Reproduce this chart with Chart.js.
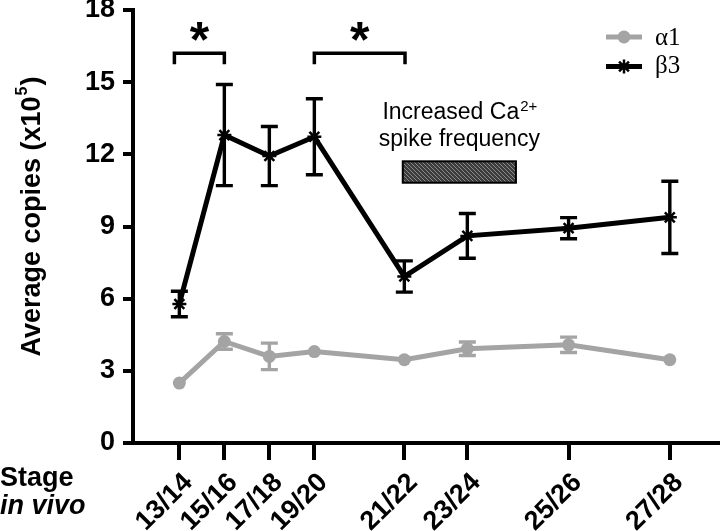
<!DOCTYPE html>
<html><head><meta charset="utf-8">
<script src="https://cdn.jsdelivr.net/npm/chart.js@4/dist/chart.umd.min.js"></script>
<style>html,body{margin:0;padding:0;background:#fff}#wrap{width:720px;height:531px;position:relative}</style>
</head><body><div id="wrap"><canvas id="c" width="720" height="531"></canvas></div>
<script>
// ---- data ----
const stageLabels = ['13/14','15/16','17/18','19/20','21/22','23/24','25/26','27/28'];
const stagePos    = [0, 2, 4, 6, 10, 12.8, 17.3, 21.8];
const alpha1      = [2.49, 4.22, 3.60, 3.80, 3.46, 3.92, 4.08, 3.46];
const alpha1Err   = [0, 0.32, 0.55, 0, 0, 0.28, 0.32, 0];
const beta3       = [5.78, 12.80, 11.93, 12.73, 6.92, 8.61, 8.93, 9.38];
const beta3Err    = [0.53, 2.10, 1.23, 1.58, 0.65, 0.93, 0.44, 1.50];
const yTicks      = [0, 3, 6, 9, 12, 15, 18];
const sigBrackets = [[-0.22, 2.0], [6.0, 10.03]];
const spikeRange  = [9.93, 14.96];
const spikeBand   = [10.82, 11.71];

const GRAY = '#a4a4a4';
const SANS = '"Liberation Sans", Arial, sans-serif';
const SERIF = '"Liberation Serif", "Times New Roman", serif';

function hatch(ctx){
  const p = document.createElement('canvas'); p.width = 4; p.height = 4;
  const c = p.getContext('2d');
  c.fillStyle = '#3c3c3c'; c.fillRect(0,0,4,4);
  c.strokeStyle = '#8a8a8a'; c.lineWidth = 1;
  c.beginPath(); c.moveTo(0,0); c.lineTo(4,4); c.moveTo(-1,3); c.lineTo(1,5); c.moveTo(3,-1); c.lineTo(5,1); c.stroke();
  return ctx.createPattern(p, 'repeat');
}

const overlay = {
  id: 'overlay',
  afterDatasetsDraw(chart){
    const ctx = chart.ctx, xs = chart.scales.x, ys = chart.scales.y;
    function bars(vals, errs, color){
      ctx.save(); ctx.strokeStyle = color; ctx.lineWidth = 3.4; ctx.lineCap = 'butt';
      vals.forEach((v,i)=>{
        const e = errs[i]; if (!e) return;
        const x = xs.getPixelForValue(stagePos[i]);
        const t = ys.getPixelForValue(v+e), b = ys.getPixelForValue(v-e);
        ctx.beginPath();
        ctx.moveTo(x,t); ctx.lineTo(x,b);
        ctx.moveTo(x-8.5,t); ctx.lineTo(x+8.5,t);
        ctx.moveTo(x-8.5,b); ctx.lineTo(x+8.5,b);
        ctx.stroke();
      });
      ctx.restore();
    }
    bars(alpha1, alpha1Err, GRAY);
    bars(beta3, beta3Err, '#000');
  },
  afterDraw(chart){
    const ctx = chart.ctx, xs = chart.scales.x, ys = chart.scales.y;
    ctx.save();
    // significance brackets and asterisks
    ctx.strokeStyle = '#000'; ctx.lineWidth = 3.5; ctx.lineJoin = 'miter';
    sigBrackets.forEach(([a,b])=>{
      const x1 = xs.getPixelForValue(a), x2 = xs.getPixelForValue(b);
      const yt = ys.getPixelForValue(16.2), yb = ys.getPixelForValue(15.75);
      ctx.beginPath(); ctx.moveTo(x1,yb); ctx.lineTo(x1,yt); ctx.lineTo(x2,yt); ctx.lineTo(x2,yb); ctx.stroke();
      ctx.fillStyle = '#000'; ctx.font = 'bold 50px ' + SANS; ctx.textAlign = 'center'; ctx.textBaseline = 'alphabetic';
      ctx.fillText('*', (x1+x2)/2, ys.getPixelForValue(17.1) + 25.3);
    });
    // hatched bar
    const bx1 = xs.getPixelForValue(spikeRange[0]), bx2 = xs.getPixelForValue(spikeRange[1]);
    const by1 = ys.getPixelForValue(spikeBand[1]), by2 = ys.getPixelForValue(spikeBand[0]);
    ctx.fillStyle = hatch(ctx); ctx.fillRect(bx1, by1, bx2-bx1, by2-by1);
    ctx.strokeStyle = '#000'; ctx.lineWidth = 2; ctx.strokeRect(bx1, by1, bx2-bx1, by2-by1);
    // annotation text
    const cx = (bx1+bx2)/2;
    ctx.fillStyle = '#000'; ctx.textBaseline = 'alphabetic'; ctx.textAlign = 'left';
    ctx.font = '23px ' + SANS;
    const t1 = 'Increased Ca', w1 = ctx.measureText(t1).width;
    ctx.font = '15px ' + SANS; const ws = ctx.measureText('2+').width;
    const sx = cx - (w1+ws)/2;
    ctx.font = '23px ' + SANS; ctx.fillText(t1, sx, by1 - 42);
    ctx.font = '15px ' + SANS; ctx.fillText('2+', sx + w1 + 1, by1 - 50);
    ctx.font = '23px ' + SANS; ctx.textAlign = 'center'; ctx.fillText('spike frequency', cx, by1 - 15);
    // legend
    ctx.lineWidth = 5; ctx.strokeStyle = GRAY; ctx.beginPath(); ctx.moveTo(606,37); ctx.lineTo(642,37); ctx.stroke();
    ctx.fillStyle = GRAY; ctx.beginPath(); ctx.arc(624,37,6.5,0,Math.PI*2); ctx.fill();
    ctx.strokeStyle = '#000'; ctx.beginPath(); ctx.moveTo(606,66.5); ctx.lineTo(642,66.5); ctx.stroke();
    ctx.lineWidth = 2.5; ctx.beginPath();
    for (let k=0;k<4;k++){ const a = k*Math.PI/4; ctx.moveTo(624-7*Math.cos(a),66.5-7*Math.sin(a)); ctx.lineTo(624+7*Math.cos(a),66.5+7*Math.sin(a)); }
    ctx.stroke();
    ctx.fillStyle = '#000'; ctx.font = '25px ' + SERIF; ctx.textAlign = 'left';
    ctx.fillText('\u03B11', 655, 45);
    ctx.fillText('\u03B23', 655, 73);
    // y title
    ctx.save(); ctx.translate(39.5, 216.5); ctx.rotate(-Math.PI/2);
    ctx.font = 'bold 27px ' + SANS; const ya = 'Average copies (x10', yb2 = ')';
    const wa = ctx.measureText(ya).width, wb = ctx.measureText(yb2).width;
    ctx.font = 'bold 16px ' + SANS; const w5 = ctx.measureText('5').width;
    let px = -(wa + w5 + wb + 2)/2;
    ctx.font = 'bold 27px ' + SANS; ctx.textAlign = 'left'; ctx.fillText(ya, px, 0); px += wa + 1;
    ctx.font = 'bold 16px ' + SANS; ctx.fillText('5', px, -13); px += w5 + 1;
    ctx.font = 'bold 27px ' + SANS; ctx.fillText(yb2, px, 0);
    ctx.restore();
    // x title
    ctx.textAlign = 'left';
    ctx.font = 'bold 27px ' + SANS; ctx.fillText('Stage', 0, 486);
    ctx.font = 'italic bold 27px ' + SANS; ctx.fillText('in vivo', 0, 514);
    ctx.restore();
  }
};

const ctx = document.getElementById('c').getContext('2d');
new Chart(ctx, {
  type: 'line',
  data: { datasets: [
    { label: '\u03B11', data: stagePos.map((x,i)=>({x, y: alpha1[i]})),
      borderColor: GRAY, backgroundColor: GRAY, borderWidth: 5, tension: 0,
      pointRadius: 6.5, pointBackgroundColor: GRAY, pointBorderWidth: 0 },
    { label: '\u03B23', data: stagePos.map((x,i)=>({x, y: beta3[i]})),
      borderColor: '#000', backgroundColor: '#000', borderWidth: 5, tension: 0,
      pointStyle: 'star', pointRadius: 7, pointBorderColor: '#000', pointBorderWidth: 2.5 }
  ]},
  options: {
    responsive: false, animation: false, devicePixelRatio: 1,
    layout: { autoPadding: false, padding: { top: 10, right: 0, left: 0, bottom: 0 } },
    plugins: { legend: { display: false }, tooltip: { enabled: false } },
    scales: {
      x: {
        type: 'linear', min: -2.06, max: 24.03, position: 'bottom',
        border: { color: '#000', width: 4 },
        grid: { drawOnChartArea: false, color: '#000', tickColor: '#000', tickLength: 17, tickWidth: 4, lineWidth: 4 },
        afterBuildTicks(s){ s.ticks = stagePos.map(v=>({value: v})); },
        ticks: { autoSkip: false, maxRotation: 45, minRotation: 45, padding: 7, labelOffset: 9, color: '#000',
          font: { family: SANS, weight: 'bold', size: 27 },
          callback(v, i){ return stageLabels[i]; } },
        afterFit(s){ s.height = 88; s.paddingLeft = 0; s.paddingRight = 0; }
      },
      y: {
        min: 0, max: 18,
        border: { color: '#000', width: 4 },
        grid: { drawOnChartArea: false, color: '#000', tickColor: '#000', tickLength: 10, tickWidth: 4, lineWidth: 4 },
        afterBuildTicks(s){ s.ticks = yTicks.map(v=>({value: v})); },
        ticks: { padding: 8, color: '#000', font: { family: SANS, weight: 'bold', size: 27 } },
        afterFit(s){ s.width = 133; s.paddingTop = 0; s.paddingBottom = 0; }
      }
    }
  },
  plugins: [overlay]
});
</script>
</body></html>
